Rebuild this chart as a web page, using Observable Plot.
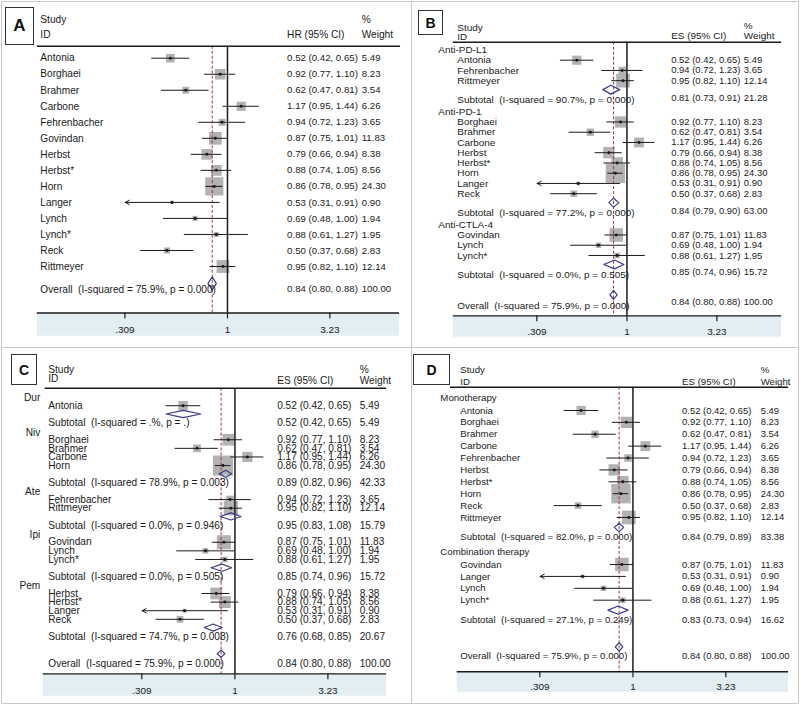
<!DOCTYPE html>
<html><head><meta charset="utf-8">
<script src="https://cdn.jsdelivr.net/npm/d3@7"></script>
<script src="https://cdn.jsdelivr.net/npm/@observablehq/plot@0.6"></script>
<style>
body{margin:0;background:#fff;}
#fig{position:relative;width:800px;height:705px;font-family:"Liberation Sans",Arial,sans-serif;overflow:hidden;}
.panel{position:absolute;box-sizing:border-box;border:1px solid #c9c9c9;}
.panel svg{position:absolute;left:-1px;top:-1px;}
.tag{position:absolute;box-sizing:border-box;border:1.5px solid #333;font-weight:bold;display:flex;align-items:center;justify-content:center;color:#111;background:#fff;}
</style></head><body><div id="fig"></div>
<script>
// ---------- data ----------
const studies = ["Antonia","Borghaei","Brahmer","Carbone","Fehrenbacher","Govindan","Herbst","Herbst*","Horn","Langer","Lynch","Lynch*","Reck","Rittmeyer"];
const hr      = [0.52,0.92,0.62,1.17,0.94,0.87,0.79,0.88,0.86,0.53,0.69,0.88,0.50,0.95];
const ciLow   = [0.42,0.77,0.47,0.95,0.72,0.75,0.66,0.74,0.78,0.31,0.48,0.61,0.37,0.82];
const ciHigh  = [0.65,1.10,0.81,1.44,1.23,1.01,0.94,1.05,0.95,0.91,1.00,1.27,0.68,1.10];
const weights = [5.49,8.23,3.54,6.26,3.65,11.83,8.38,8.56,24.30,0.90,1.94,1.95,2.83,12.14];
const overallES = 0.84, overallLow = 0.80, overallHigh = 0.88, overallWeight = 100.00;
const overallI2 = "75.9%", overallP = "0.000";

const groupsB = ["Anti-PD-L1","Anti-PD-1","Anti-CTLA-4"];
const membersB = [["Antonia","Fehrenbacher","Rittmeyer"],["Borghaei","Brahmer","Carbone","Herbst","Herbst*","Horn","Langer","Reck"],["Govindan","Lynch","Lynch*"]];
const subEsB = [0.81,0.84,0.85], subLowB = [0.73,0.79,0.74], subHighB = [0.91,0.90,0.96];
const subWeightB = [21.28,63.00,15.72], subI2B = ["90.7%","77.2%","0.0%"], subPB = ["0.000","0.000","0.505"];

const groupsC = ["Dur","Niv","Ate","Ipi","Pem"];
const membersC = [["Antonia"],["Borghaei","Brahmer","Carbone","Horn"],["Fehrenbacher","Rittmeyer"],["Govindan","Lynch","Lynch*"],["Herbst","Herbst*","Langer","Reck"]];
const subEsC = [0.52,0.89,0.95,0.85,0.76], subLowC = [0.42,0.82,0.83,0.74,0.68], subHighC = [0.65,0.96,1.08,0.96,0.85];
const subWeightC = [5.49,42.33,15.79,15.72,20.67], subI2C = [".%","78.9%","0.0%","0.0%","74.7%"], subPC = [".","0.003","0.946","0.505","0.008"];

const groupsD = ["Monotherapy","Combination therapy"];
const membersD = [["Antonia","Borghaei","Brahmer","Carbone","Fehrenbacher","Herbst","Herbst*","Horn","Reck","Rittmeyer"],["Govindan","Langer","Lynch","Lynch*"]];
const subEsD = [0.84,0.83], subLowD = [0.79,0.73], subHighD = [0.89,0.94];
const subWeightD = [83.38,16.62], subI2D = ["82.0%","27.1%"], subPD = ["0.000","0.249"];

const axisMin = 0.309, axisMax = 3.23;
const tickValues = [0.309, 1, 3.23];
const tickLabels = [".309", "1", "3.23"];
const panelLetters = ["A","B","C","D"];
const ciHeaders = ["HR (95% CI)","ES (95% CI)","ES (95% CI)","ES (95% CI)"];

// ---------- helpers ----------
const f2 = d3.format(".2f");
function studyRow(name, y){
  const i = studies.indexOf(name);
  return {kind:"study", label:name, es:hr[i], lo:ciLow[i], hi:ciHigh[i], w:weights[i], y};
}
function poolLabel(kind, i2, p){ return `${kind}  (I-squared = ${i2}, p = ${p})`; }

function rowsUngrouped(L){
  const rows = [];
  let y = L.firstStudy;
  studies.forEach(s => { rows.push(studyRow(s, y)); y += L.step; });
  const last = y - L.step;
  rows.push({kind:"overall", label:poolLabel("Overall", overallI2, overallP), es:overallES, lo:overallLow, hi:overallHigh, w:overallWeight,
             y:last + L.ovText, yd:last + L.ovDiamond, yv:last + L.ovText + (L.ovValDy||0)});
  return rows;
}
function rowsGrouped(groups, members, es, lo, hi, w, i2, p, L){
  const rows = [];
  let labelY = L.firstLabel, lastSub = 0;
  groups.forEach((g, gi) => {
    rows.push({kind:"group", label:g, y:labelY});
    let y = labelY + L.labelToStudy;
    members[gi].forEach(n => { rows.push(studyRow(n, y)); y += L.step; });
    const last = y - L.step;
    lastSub = last + L.lastToSub;
    rows.push({kind:"subtotal", label:poolLabel("Subtotal", i2[gi], p[gi]), es:es[gi], lo:lo[gi], hi:hi[gi], w:w[gi],
               y:lastSub, yd:last + L.lastToDiamond, yv:lastSub + (L.subValDy||0)});
    labelY = lastSub + L.subToNextLabel;
  });
  rows.push({kind:"overall", label:poolLabel("Overall", overallI2, overallP), es:overallES, lo:overallLow, hi:overallHigh, w:overallWeight,
             y:lastSub + L.ovText, yd:lastSub + L.ovDiamond, yv:lastSub + L.ovText + (L.ovValDy||0)});
  return rows;
}

// ---------- panel layouts (global pixel positions) ----------
const panels = [
  {left:1, top:1, w:411, h:347, x309:125, x323:331, fs:10.2, vfs:9.7, k:3.7, dh:6.5,
   tag:{x:5,y:7,w:29,h:38,fs:17},
   head:{studyY:19, idY:34, ciY:34, pctY:19, wY:34, lineY:46, x1:37, x2:402},
   axis:{y:314, x1:37, x2:401, band:337, labelY:331},
   cols:{group:40, label:40, pool:40, val:288, wt:363},
   layout:{firstStudy:58, step:16.1, ovDiamond:17, ovText:23}, grouped:false},
  {left:411, top:1, w:388, h:347, x309:537, x323:718, fs:10, vfs:9.5, k:3.95, dh:4.5,
   tag:{x:418,y:10,w:25,h:25,fs:14},
   head:{studyY:27, idY:36, ciY:35, pctY:25, wY:35, lineY:42, x1:453, x2:783},
   axis:{y:317, x1:453, x2:783, band:338, labelY:333},
   cols:{group:438, label:457, pool:457, val:672, wt:745},
   layout:{firstLabel:50, labelToStudy:10, step:10.3, lastToDiamond:9, lastToSub:19, subToNextLabel:12.5, ovDiamond:20.5, ovText:31.5, subValDy:-2, ovValDy:-4},
   grouped:true, data:[groupsB, membersB, subEsB, subLowB, subHighB, subWeightB, subI2B, subPB]},
  {left:1, top:347, w:411, h:357, x309:142, x323:329, fs:10.2, vfs:10.2, k:4.1, dh:3.6,
   tag:{x:11,y:354,w:26,h:31,fs:14},
   head:{studyY:369, idY:378, ciY:380, pctY:369, wY:380, lineY:388, x1:45, x2:388},
   axis:{y:675, x1:43, x2:388, band:697, labelY:692},
   cols:{group:40, groupAnchor:"end", label:48, pool:48, val:278, wt:361},
   layout:{firstLabel:398, labelToStudy:7.5, step:8.65, lastToDiamond:8.3, lastToSub:17.2, subToNextLabel:9.5, ovDiamond:17.4, ovText:27.4},
   grouped:true, data:[groupsC, membersC, subEsC, subLowC, subHighC, subWeightC, subI2C, subPC]},
  {left:411, top:347, w:388, h:357, x309:540, x323:727, fs:9.7, vfs:9.5, k:3.95, dh:4.2,
   tag:{x:413,y:354,w:37,h:31,fs:14},
   head:{studyY:370, idY:382, ciY:382, pctY:370, wY:382, lineY:387, x1:450, x2:790},
   axis:{y:673, x1:457, x2:790, band:693, labelY:688},
   cols:{group:440, label:460, pool:460, val:683, wt:762},
   layout:{firstLabel:398, labelToStudy:12.3, step:11.95, lastToDiamond:10, lastToSub:20, subToNextLabel:15, ovDiamond:27, ovText:36},
   grouped:true, data:[groupsD, membersD, subEsD, subLowD, subHighD, subWeightD, subI2D, subPD]}
];

const fig = document.getElementById("fig");
const ink = "#1a1a1a", boxGray = "#b2b2b2", diamondColor = "#3b3a8c", dashColor = "#9b3246", bandColor = "#e3eef3";
const tickSize = 6;

panels.forEach((P, pi) => {
  const rows = P.grouped ? rowsGrouped(...P.data, P.layout) : rowsUngrouped(P.layout);
  const W = P.w, H = P.h, lx = v => v - P.left, ly = v => v - P.top;
  const axisY = ly(P.axis.y), headY = ly(P.head.lineY);
  const study = rows.filter(r => r.kind === "study");
  const pools = rows.filter(r => r.kind === "subtotal" || r.kind === "overall");
  const groups = rows.filter(r => r.kind === "group");
  const clipped = study.filter(r => r.lo <= axisMin * 1.01);
  const full = study.filter(r => r.lo > axisMin * 1.01);
  const diamonds = pools.flatMap((r, k) => [[r.lo,0],[r.es,-1],[r.hi,0],[r.es,1],[r.lo,0]].map(([x, s]) => ({id:k, x, y:ly(r.yd) + s * P.dh})));
  const valueRows = [...study.map(r => ({y:ly(r.y), es:r.es, lo:r.lo, hi:r.hi, w:r.w})), ...pools.map(r => ({y:ly(r.yv), es:r.es, lo:r.lo, hi:r.hi, w:r.w}))];
  const headLeft = [{t:"Study", y:P.head.studyY}, {t:"ID", y:P.head.idY}];
  const headCI = [{t:ciHeaders[pi], y:P.head.ciY}];
  const headW = [{t:"%", y:P.head.pctY}, {t:"Weight", y:P.head.wY}];
  const hline = (y, x1, x2, extra) => Plot.ruleY([y], {stroke:ink, insetLeft:lx(x1), insetRight:W - lx(x2), ...extra});
  const textCol = (data, x, opts) => Plot.text(data, {frameAnchor:"left", dx:lx(x), textAnchor:"start", fill:ink, ...opts});
  const tickFmt = d => tickLabels[tickValues.indexOf(d)];

  const plot = Plot.plot({
    width:W, height:H, margin:0,
    x:{type:"log", domain:[axisMin, axisMax], range:[lx(P.x309), lx(P.x323)], label:null, axis:null},
    y:{type:"linear", domain:[0, H], range:[0, H], axis:null},
    r:{type:"sqrt", domain:[0, 100], range:[0, 10 * P.k / Math.sqrt(Math.PI)]},
    style:{background:"transparent", fontFamily:'"Liberation Sans", Arial, sans-serif', fontSize:P.fs + "px", color:ink, overflow:"visible"},
    marks:[
      Plot.ruleY([ly((P.axis.y + P.axis.band) / 2)], {stroke:bandColor, strokeWidth:P.axis.band - P.axis.y, insetLeft:lx(P.axis.x1), insetRight:W - lx(P.axis.x2)}),
      Plot.ruleX(tickValues, {x:d => d, y1:axisY, y2:axisY + tickSize, stroke:ink, strokeWidth:1.2}),
      Plot.text(tickValues, {x:d => d, y:ly(P.axis.labelY), text:tickFmt, fill:ink, fontSize:10}),
      Plot.dot(study, {x:"es", y:d => ly(d.y), r:"w", symbol:"square", fill:boxGray}),
      Plot.ruleX([overallES], {y1:headY, y2:axisY, stroke:dashColor, strokeWidth:1, strokeDasharray:"3,2"}),
      Plot.ruleX([1], {y1:headY, y2:axisY, stroke:ink, strokeWidth:1.5}),
      Plot.ruleY(full, {y:d => ly(d.y), x1:"lo", x2:"hi", stroke:ink, strokeWidth:1}),
      Plot.arrow(clipped, {x1:"hi", x2:d => Math.max(d.lo, axisMin), y1:d => ly(d.y), y2:d => ly(d.y), stroke:ink, strokeWidth:1, headLength:7, headAngle:55}),
      Plot.dot(study, {x:"es", y:d => ly(d.y), r:1.5, fill:ink}),
      Plot.line(diamonds, {x:"x", y:"y", z:"id", stroke:diamondColor, strokeWidth:1.2}),
      hline(headY, P.head.x1, P.head.x2, {strokeWidth:1.4}),
      hline(axisY, P.axis.x1, P.axis.x2, {strokeWidth:1.4}),
      textCol(headLeft, P.cols.label, {y:d => ly(d.y), text:"t"}),
      textCol(headCI, P.cols.val, {y:d => ly(d.y), text:"t"}),
      textCol(headW, P.cols.wt, {y:d => ly(d.y), text:"t"}),
      textCol(groups, P.cols.group, {y:d => ly(d.y), text:"label", textAnchor:P.cols.groupAnchor || "start"}),
      textCol(study, P.cols.label, {y:d => ly(d.y), text:"label"}),
      textCol(pools, P.cols.pool, {y:d => ly(d.y), text:"label"}),
      textCol(valueRows, P.cols.val, {y:"y", text:d => `${f2(d.es)} (${f2(d.lo)}, ${f2(d.hi)})`, fontSize:P.vfs}),
      textCol(valueRows, P.cols.wt, {y:"y", text:d => f2(d.w), fontSize:P.vfs})
    ]
  });
  const panel = document.createElement("div");
  panel.className = "panel";
  Object.assign(panel.style, {left:P.left + "px", top:P.top + "px", width:W + "px", height:H + "px"});
  panel.appendChild(plot);
  fig.appendChild(panel);
  const tag = document.createElement("div");
  tag.className = "tag";
  Object.assign(tag.style, {left:P.tag.x + "px", top:P.tag.y + "px", width:P.tag.w + "px", height:P.tag.h + "px", fontSize:P.tag.fs + "px"});
  tag.textContent = panelLetters[pi];
  fig.appendChild(tag);
});
</script></body></html>
